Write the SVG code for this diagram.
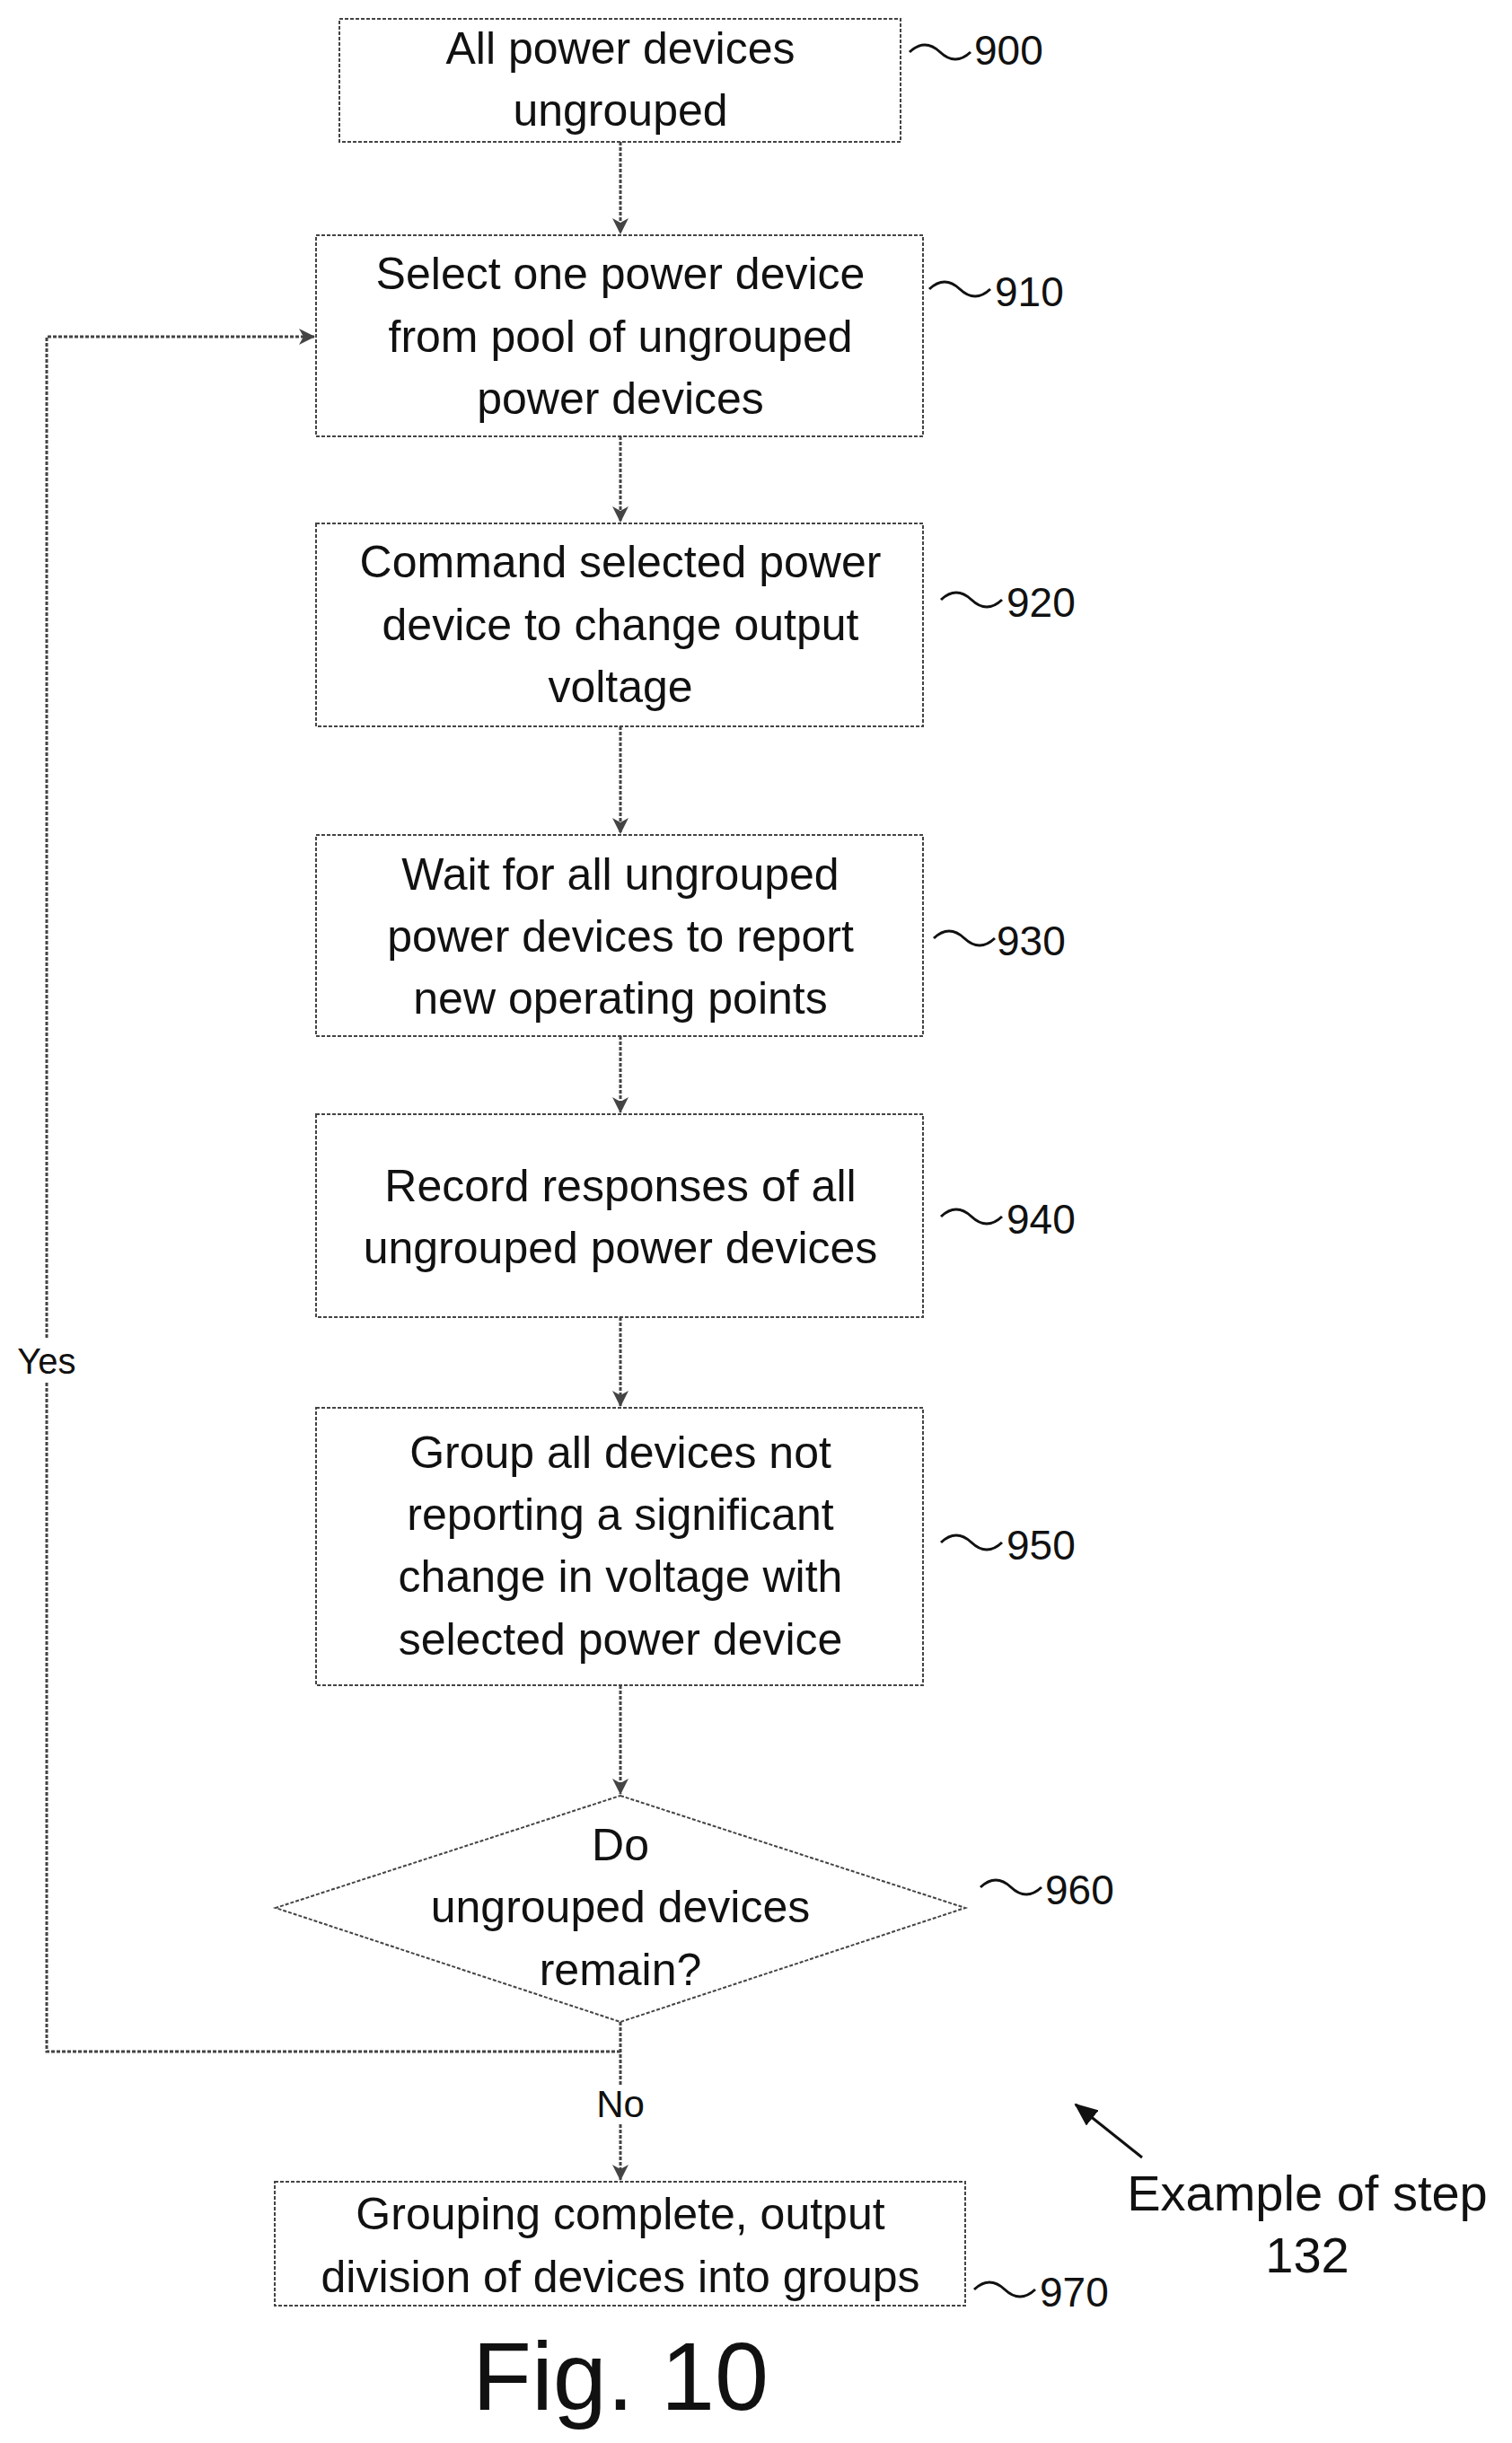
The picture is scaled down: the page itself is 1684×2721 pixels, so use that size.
<svg xmlns="http://www.w3.org/2000/svg" width="1684" height="2721" viewBox="0 0 1684 2721">
<style>
.b{fill:#fff;stroke:#444;stroke-width:2;stroke-dasharray:4 2}
.t{font-family:"Liberation Sans",Arial,sans-serif;font-size:50px;fill:#111;text-anchor:middle}
.n{font-family:"Liberation Sans",Arial,sans-serif;font-size:46px;fill:#111}
.c{fill:none;stroke:#444;stroke-width:3;stroke-dasharray:4 2}
.w{fill:none;stroke:#111;stroke-width:3}
</style>
<defs>
<marker id="a" markerWidth="18" markerHeight="18" refX="17" refY="9" orient="auto" markerUnits="userSpaceOnUse"><path d="M0,0 L18,9 L0,18 L5,9 z" fill="#444"/></marker>
<marker id="k" markerWidth="26" markerHeight="22" refX="24" refY="11" orient="auto" markerUnits="userSpaceOnUse"><path d="M0,0 L26,11 L0,22 z" fill="#111"/></marker>
</defs>
<g id="connectors">
<path class="c" d="M691,158 V260" marker-end="url(#a)"/>
<path class="c" d="M691,486 V581" marker-end="url(#a)"/>
<path class="c" d="M691,809 V928" marker-end="url(#a)"/>
<path class="c" d="M691,1154 V1239" marker-end="url(#a)"/>
<path class="c" d="M691,1467 V1566" marker-end="url(#a)"/>
<path class="c" d="M691,1877 V1998" marker-end="url(#a)"/>
<path class="c" d="M691,2252 V2428" marker-end="url(#a)"/>
<path class="c" d="M691,2285 H52 V375 H350" marker-end="url(#a)"/>
<rect x="14" y="1490" width="76" height="50" fill="#fff"/>
<text class="n" x="52" y="1530" style="text-anchor:middle;font-size:40px">Yes</text>
<rect x="665" y="2322" width="52" height="44" fill="#fff"/>
<text class="n" x="691" y="2358" style="text-anchor:middle;font-size:42px">No</text>
</g>
<g id="n900"><rect class="b" x="378" y="21" width="625" height="137"/><text class="t" x="691" y="71">All power devices</text><text class="t" x="691" y="140">ungrouped</text></g>
<g id="n910"><rect class="b" x="352" y="262" width="676" height="224"/><text class="t" x="691" y="322">Select one power device</text><text class="t" x="691" y="392">from pool of ungrouped</text><text class="t" x="691" y="461">power devices</text></g>
<g id="n920"><rect class="b" x="352" y="583" width="676" height="226"/><text class="t" x="691" y="643">Command selected power</text><text class="t" x="691" y="713">device to change output</text><text class="t" x="691" y="782">voltage</text></g>
<g id="n930"><rect class="b" x="352" y="930" width="676" height="224"/><text class="t" x="691" y="991">Wait for all ungrouped</text><text class="t" x="691" y="1060">power devices to report</text><text class="t" x="691" y="1129">new operating points</text></g>
<g id="n940"><rect class="b" x="352" y="1241" width="676" height="226"/><text class="t" x="691" y="1338">Record responses of all</text><text class="t" x="691" y="1407">ungrouped power devices</text></g>
<g id="n950"><rect class="b" x="352" y="1568" width="676" height="309"/><text class="t" x="691" y="1635">Group all devices not</text><text class="t" x="691" y="1704">reporting a significant</text><text class="t" x="691" y="1773">change in voltage with</text><text class="t" x="691" y="1843">selected power device</text></g>
<g id="n960"><path class="b" d="M691,2000 L1075,2125 L691,2252 L307,2125 Z"/><text class="t" x="691" y="2072">Do</text><text class="t" x="691" y="2141">ungrouped devices</text><text class="t" x="691" y="2211">remain?</text></g>
<g id="n970"><rect class="b" x="306" y="2430" width="769" height="138"/><text class="t" x="691" y="2483">Grouping complete, output</text><text class="t" x="691" y="2553">division of devices into groups</text></g>
<g id="refs">
<path class="w" d="M1013,58 q17,-16 34,0 t34,0"/><text class="n" x="1085" y="72">900</text>
<path class="w" d="M1035,322 q17,-16 34,0 t34,0"/><text class="n" x="1108" y="341">910</text>
<path class="w" d="M1048,668 q17,-16 34,0 t34,0"/><text class="n" x="1121" y="687">920</text>
<path class="w" d="M1040,1045 q17,-16 34,0 t34,0"/><text class="n" x="1110" y="1064">930</text>
<path class="w" d="M1048,1355 q17,-16 34,0 t34,0"/><text class="n" x="1121" y="1374">940</text>
<path class="w" d="M1048,1718 q17,-16 34,0 t34,0"/><text class="n" x="1121" y="1737">950</text>
<path class="w" d="M1092,2102 q17,-16 34,0 t34,0"/><text class="n" x="1164" y="2121">960</text>
<path class="w" d="M1085,2550 q17,-16 34,0 t34,0"/><text class="n" x="1158" y="2569">970</text>
</g>
<g id="note">
<path d="M1272,2403 L1198,2344" stroke="#111" stroke-width="3" marker-end="url(#k)"/>
<text class="n" x="1456" y="2462" style="text-anchor:middle;font-size:56px">Example of step</text>
<text class="n" x="1456" y="2531" style="text-anchor:middle;font-size:56px">132</text>
<text class="n" x="691" y="2684" style="text-anchor:middle;font-size:108px">Fig. 10</text>
</g>
</svg>
